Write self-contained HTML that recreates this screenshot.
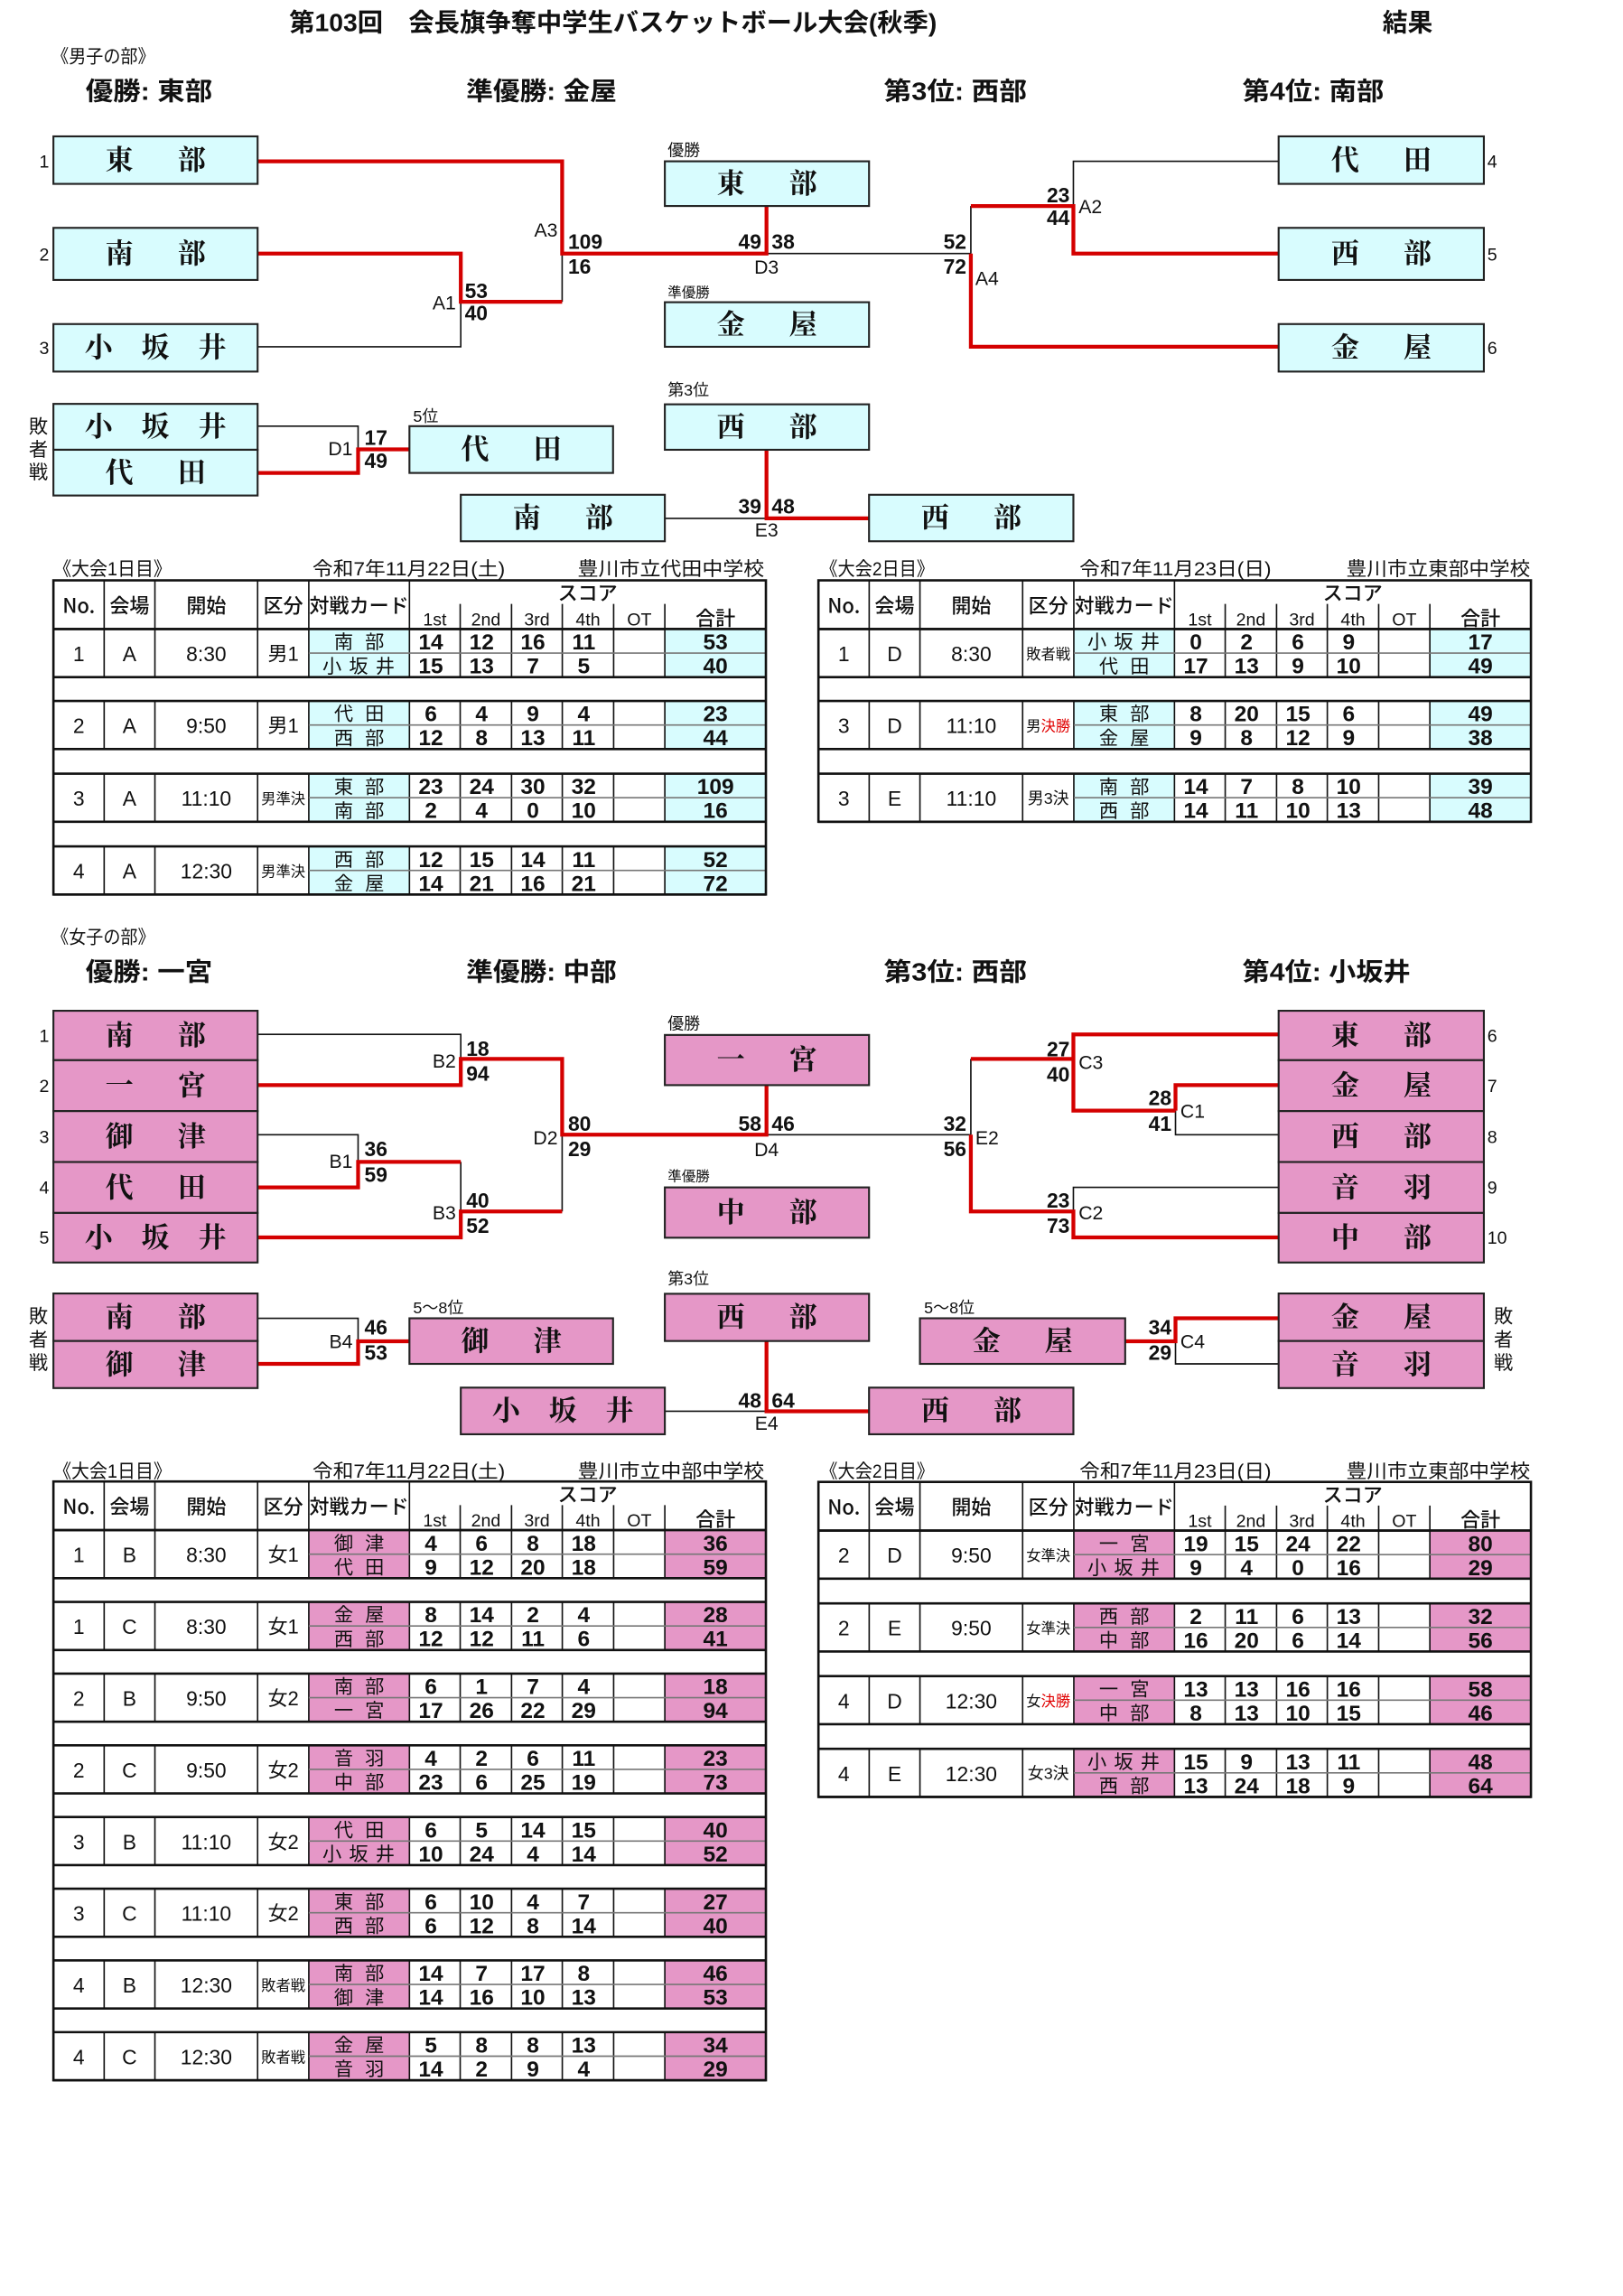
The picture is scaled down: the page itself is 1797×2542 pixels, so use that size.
<!DOCTYPE html>
<html><head><meta charset="utf-8"><style>
html,body{margin:0;padding:0;background:#fff}
svg{display:block}
text{font-family:"Liberation Sans Narrow","Liberation Sans","Noto Sans CJK JP",sans-serif;fill:#111}
.h{font-size:17px;font-weight:bold}
.sub{font-size:12.5px}
.lab{font-size:13px}
.bx{font-family:"Noto Serif CJK SC","Noto Serif CJK JP",serif;font-size:19px;font-weight:bold;text-anchor:middle}
.bs{font-size:14px;font-weight:bold}
.bl{font-size:13px}
.bn{font-size:12px}
.sm{font-size:11px}
.th{font-size:13.5px;text-anchor:middle;font-family:"Liberation Sans Narrow","Noto Sans CJK JP",sans-serif;font-weight:500}
.ts{font-size:12px;text-anchor:middle}
.c{font-size:14px;text-anchor:middle}
.q{font-size:13.5px;text-anchor:middle}
.qs{font-size:10px;text-anchor:middle}
.n{font-family:"Noto Sans CJK JP",sans-serif;font-size:13px;text-anchor:middle}
.sc{font-size:15px;font-weight:bold;text-anchor:middle}
.k{stroke:#111;stroke-width:1;fill:none}
.K{stroke:#111;stroke-width:1.6;fill:none}
.gl{stroke:#777;stroke-width:1;fill:none}
.r{stroke:#d40000;stroke-width:2.6;fill:none}
.bc{fill:#d8fcfe;stroke:#222;stroke-width:1.3}
.bp{fill:#e597c7;stroke:#222;stroke-width:1.3}
.mid{text-anchor:middle}
.end{text-anchor:end}
</style></head><body>
<svg width="1797" height="2542" viewBox="0 0 1100 1556" xmlns="http://www.w3.org/2000/svg">
<defs>
<g id="sk">
<path class="k" d="M70.6 0v32.6M105 0v32.6M174.6 0v32.6M209.3 0v32.6M277.5 0v32.6M311.9 0v32.6M346.7 0v32.6M381.1 0v32.6M415.9 0v32.6M450.6 0v32.6"/>
<path class="gl" d="M209.3 16.3H519.1"/>
<path class="K" d="M36.2 0H519.1M36.2 32.6H519.1"/>
</g>
<g id="rc"><rect x="209.3" y="0" width="68.2" height="32.6" fill="#d8fcfe"/><rect x="450.6" y="0" width="68.5" height="32.6" fill="#d8fcfe"/><use href="#sk"/></g>
<g id="rp"><rect x="209.3" y="0" width="68.2" height="32.6" fill="#e597c7"/><rect x="450.6" y="0" width="68.5" height="32.6" fill="#e597c7"/><use href="#sk"/></g>
<g id="hd">
<path class="k" d="M70.6 0v33M105 0v33M174.6 0v33M209.3 0v33M277.5 0v33M311.9 16v17M346.7 16v17M381.1 16v17M415.9 16v17M450.6 16v17"/>
<path class="K" d="M36.2 33H519.1"/>
<text class="th" x="53.4" y="22">No.</text>
<text class="th" x="87.8" y="22">会場</text>
<text class="th" x="139.8" y="22">開始</text>
<text class="th" x="192" y="22">区分</text>
<text class="th" x="243.4" y="22">対戦カード</text>
<text class="th" x="398.3" y="13.5">スコア</text>
<text class="ts" y="30.5"><tspan x="294.7">1st</tspan><tspan x="329.3">2nd</tspan><tspan x="363.9">3rd</tspan><tspan x="398.5">4th</tspan><tspan x="433.3">OT</tspan></text>
<text class="th" x="484.9" y="30.5">合計</text>
</g>
</defs>

<!-- ===== Titles ===== -->
<text class="h" x="196" y="21" textLength="439" lengthAdjust="spacingAndGlyphs">第103回　会長旗争奪中学生バスケットボール大会(秋季)</text>
<text class="h" x="937" y="21">結果</text>
<text class="sub" x="35" y="42.5" textLength="70" lengthAdjust="spacingAndGlyphs">《男子の部》</text>
<text class="h" x="58" y="67.5" textLength="86" lengthAdjust="spacingAndGlyphs">優勝: 東部</text>
<text class="h" x="316" y="67.5" textLength="102" lengthAdjust="spacingAndGlyphs">準優勝: 金屋</text>
<text class="h" x="599" y="67.5" textLength="97" lengthAdjust="spacingAndGlyphs">第3位: 西部</text>
<text class="h" x="842" y="67.5" textLength="96" lengthAdjust="spacingAndGlyphs">第4位: 南部</text>

<!-- ===== Men bracket lines ===== -->
<path class="k" d="M174.6 235H312.3V204.5M381 171.8V204.5M519.5 171.8H658M866.6 109.3H727.5V139.6M658 139.6V171.8M174.6 288.8H242.7V304.5M450.6 351.3H519.5"/>
<path class="r" d="M174.6 171.8H312.3V204.5H381M174.6 109.3H381V171.8H519.5V139.6M866.6 171.8H727.5V139.6H658M866.6 235H658V171.8M174.6 320.5H242.7V304.5H277.5M519.5 304.8V351.3H589"/>

<!-- Men boxes -->
<rect class="bc" x="36.2" y="92.4" width="138.4" height="32.2"/><text class="bx" x="80.9 129.9" y="115">東部</text>
<rect class="bc" x="36.2" y="154.4" width="138.4" height="35.3"/><text class="bx" x="80.9 129.9" y="178.5">南部</text>
<rect class="bc" x="36.2" y="219.6" width="138.4" height="32.2"/><text class="bx" x="66.9 105.4 143.9" y="242.2">小坂井</text>
<rect class="bc" x="866.6" y="92.4" width="139.1" height="32.2"/><text class="bx" x="911.7 960.7" y="115">代田</text>
<rect class="bc" x="866.6" y="154.4" width="139.1" height="35.3"/><text class="bx" x="911.7 960.7" y="178.5">西部</text>
<rect class="bc" x="866.6" y="219.6" width="139.1" height="32.2"/><text class="bx" x="911.7 960.7" y="242.2">金屋</text>
<rect class="bc" x="450.6" y="109.3" width="138.4" height="30.3"/><text class="bx" x="495.3 544.3" y="131">東部</text>
<rect class="bc" x="450.6" y="204.8" width="138.4" height="30.2"/><text class="bx" x="495.3 544.3" y="226.4">金屋</text>
<rect class="bc" x="450.6" y="274" width="138.4" height="30.8"/><text class="bx" x="495.3 544.3" y="295.9">西部</text>
<rect class="bc" x="36.2" y="273.7" width="138.4" height="31.1"/><text class="bx" x="66.9 105.4 143.9" y="295.7">小坂井</text>
<rect class="bc" x="36.2" y="304.8" width="138.4" height="31"/><text class="bx" x="80.9 129.9" y="326.8">代田</text>
<rect class="bc" x="277.5" y="288.8" width="138" height="31.7"/><text class="bx" x="322 371" y="311.1">代田</text>
<rect class="bc" x="312.3" y="335.3" width="138.3" height="31.5"/><text class="bx" x="357 406" y="357.5">南部</text>
<rect class="bc" x="589" y="335.3" width="138.5" height="31.5"/><text class="bx" x="633.8 682.8" y="357.5">西部</text>

<!-- Men labels -->
<text class="bn mid" y="113.5"><tspan x="30">1</tspan></text>
<text class="bn mid" x="30" y="176.5">2</text>
<text class="bn mid" x="30" y="240">3</text>
<text class="bn" x="1008" y="113.5">4</text>
<text class="bn" x="1008" y="176.5">5</text>
<text class="bn" x="1008" y="240">6</text>
<text class="sm" x="452.5" y="105.5">優勝</text>
<text class="sm" x="452.5" y="201.5" style="font-size:9.5px">準優勝</text>
<text class="sm" x="452.5" y="268">第3位</text>
<text class="sm" x="280" y="286">5位</text>
<text class="bl mid" x="26" y="293.5">敗</text><text class="bl mid" x="26" y="309">者</text><text class="bl mid" x="26" y="324.5">戦</text>
<text class="bl end" x="309" y="209.5">A1</text>
<text class="bs" x="315" y="202">53</text><text class="bs" x="315" y="217">40</text>
<text class="bl end" x="378" y="160.5">A3</text>
<text class="bs" x="385" y="168.5">109</text><text class="bs" x="385" y="185.5">16</text>
<text class="bs end" x="516" y="168.5">49</text><text class="bs" x="523" y="168.5">38</text>
<text class="bl mid" x="519.5" y="185.5">D3</text>
<text class="bs end" x="655" y="168.5">52</text><text class="bs end" x="655" y="185.5">72</text>
<text class="bl" x="661" y="193">A4</text>
<text class="bs end" x="725" y="137">23</text><text class="bs end" x="725" y="152.5">44</text>
<text class="bl" x="731" y="144.5">A2</text>
<text class="bl end" x="239" y="308.5">D1</text>
<text class="bs" x="247" y="301.5">17</text><text class="bs" x="247" y="317">49</text>
<text class="bs end" x="516" y="348">39</text><text class="bs" x="523" y="348">48</text>
<text class="bl mid" x="519.5" y="363.5">E3</text>

<!-- ===== Men tables ===== -->
<text class="lab" x="36.2" y="390" textLength="80" lengthAdjust="spacingAndGlyphs">《大会1日目》</text>
<text class="lab" x="211.7" y="390" textLength="130.6" lengthAdjust="spacingAndGlyphs">令和7年11月22日(土)</text>
<text class="lab" x="391.5" y="390" textLength="126.5" lengthAdjust="spacingAndGlyphs">豊川市立代田中学校</text>
<use href="#hd" y="393.3"/>
<use href="#rc" y="426.3"/><use href="#rc" y="475"/><use href="#rc" y="524.3"/><use href="#rc" y="573.6"/>
<rect x="36.2" y="393.3" width="482.9" height="212.9" fill="none" class="K"/>
<g transform="translate(0,426.3)">
<text class="c" y="21.8"><tspan x="53.4">1</tspan><tspan x="87.8">A</tspan><tspan x="139.8">8:30</tspan></text><text class="q" x="192" y="21.5">男1</text>
<text class="n" x="232.9 253.9" y="13.3">南部</text><text class="n" x="225 243 261" y="29.6">小坂井</text>
<text class="sc" y="13.9"><tspan x="292">14</tspan><tspan x="326.4">12</tspan><tspan x="361.2">16</tspan><tspan x="395.6">11</tspan><tspan x="484.9">53</tspan></text>
<text class="sc" y="30.1"><tspan x="292">15</tspan><tspan x="326.4">13</tspan><tspan x="361.2">7</tspan><tspan x="395.6">5</tspan><tspan x="484.9">40</tspan></text>
</g>
<g transform="translate(0,475)">
<text class="c" y="21.8"><tspan x="53.4">2</tspan><tspan x="87.8">A</tspan><tspan x="139.8">9:50</tspan></text><text class="q" x="192" y="21.5">男1</text>
<text class="n" x="232.9 253.9" y="13.3">代田</text><text class="n" x="232.9 253.9" y="29.6">西部</text>
<text class="sc" y="13.9"><tspan x="292">6</tspan><tspan x="326.4">4</tspan><tspan x="361.2">9</tspan><tspan x="395.6">4</tspan><tspan x="484.9">23</tspan></text>
<text class="sc" y="30.1"><tspan x="292">12</tspan><tspan x="326.4">8</tspan><tspan x="361.2">13</tspan><tspan x="395.6">11</tspan><tspan x="484.9">44</tspan></text>
</g>
<g transform="translate(0,524.3)">
<text class="c" y="21.8"><tspan x="53.4">3</tspan><tspan x="87.8">A</tspan><tspan x="139.8">11:10</tspan></text><text class="qs" x="192" y="20.5">男準決</text>
<text class="n" x="232.9 253.9" y="13.3">東部</text><text class="n" x="232.9 253.9" y="29.6">南部</text>
<text class="sc" y="13.9"><tspan x="292">23</tspan><tspan x="326.4">24</tspan><tspan x="361.2">30</tspan><tspan x="395.6">32</tspan><tspan x="484.9">109</tspan></text>
<text class="sc" y="30.1"><tspan x="292">2</tspan><tspan x="326.4">4</tspan><tspan x="361.2">0</tspan><tspan x="395.6">10</tspan><tspan x="484.9">16</tspan></text>
</g>
<g transform="translate(0,573.6)">
<text class="c" y="21.8"><tspan x="53.4">4</tspan><tspan x="87.8">A</tspan><tspan x="139.8">12:30</tspan></text><text class="qs" x="192" y="20.5">男準決</text>
<text class="n" x="232.9 253.9" y="13.3">西部</text><text class="n" x="232.9 253.9" y="29.6">金屋</text>
<text class="sc" y="13.9"><tspan x="292">12</tspan><tspan x="326.4">15</tspan><tspan x="361.2">14</tspan><tspan x="395.6">11</tspan><tspan x="484.9">52</tspan></text>
<text class="sc" y="30.1"><tspan x="292">14</tspan><tspan x="326.4">21</tspan><tspan x="361.2">16</tspan><tspan x="395.6">21</tspan><tspan x="484.9">72</tspan></text>
</g>

<text class="lab" x="556" y="390" textLength="77" lengthAdjust="spacingAndGlyphs">《大会2日目》</text>
<text class="lab" x="731.6" y="390" textLength="130" lengthAdjust="spacingAndGlyphs">令和7年11月23日(日)</text>
<text class="lab" x="912.5" y="390" textLength="124.6" lengthAdjust="spacingAndGlyphs">豊川市立東部中学校</text>
<g transform="translate(518.5,0)">
<use href="#hd" y="393.3"/>
<use href="#rc" y="426.3"/><use href="#rc" y="475"/><use href="#rc" y="524.3"/>
<rect x="36.2" y="393.3" width="482.9" height="163.6" fill="none" class="K"/>
<g transform="translate(0,426.3)">
<text class="c" y="21.8"><tspan x="53.4">1</tspan><tspan x="87.8">D</tspan><tspan x="139.8">8:30</tspan></text><text class="qs" x="192" y="20.5">敗者戦</text>
<text class="n" x="225 243 261" y="13.3">小坂井</text><text class="n" x="232.9 253.9" y="29.6">代田</text>
<text class="sc" y="13.9"><tspan x="292">0</tspan><tspan x="326.4">2</tspan><tspan x="361.2">6</tspan><tspan x="395.6">9</tspan><tspan x="484.9">17</tspan></text>
<text class="sc" y="30.1"><tspan x="292">17</tspan><tspan x="326.4">13</tspan><tspan x="361.2">9</tspan><tspan x="395.6">10</tspan><tspan x="484.9">49</tspan></text>
</g>
<g transform="translate(0,475)">
<text class="c" y="21.8"><tspan x="53.4">3</tspan><tspan x="87.8">D</tspan><tspan x="139.8">11:10</tspan></text><text class="qs" x="192" y="20.5">男<tspan fill="#e00000">決勝</tspan></text>
<text class="n" x="232.9 253.9" y="13.3">東部</text><text class="n" x="232.9 253.9" y="29.6">金屋</text>
<text class="sc" y="13.9"><tspan x="292">8</tspan><tspan x="326.4">20</tspan><tspan x="361.2">15</tspan><tspan x="395.6">6</tspan><tspan x="484.9">49</tspan></text>
<text class="sc" y="30.1"><tspan x="292">9</tspan><tspan x="326.4">8</tspan><tspan x="361.2">12</tspan><tspan x="395.6">9</tspan><tspan x="484.9">38</tspan></text>
</g>
<g transform="translate(0,524.3)">
<text class="c" y="21.8"><tspan x="53.4">3</tspan><tspan x="87.8">E</tspan><tspan x="139.8">11:10</tspan></text><text class="qs" x="192" y="20.5" style="font-size:11px">男3決</text>
<text class="n" x="232.9 253.9" y="13.3">南部</text><text class="n" x="232.9 253.9" y="29.6">西部</text>
<text class="sc" y="13.9"><tspan x="292">14</tspan><tspan x="326.4">7</tspan><tspan x="361.2">8</tspan><tspan x="395.6">10</tspan><tspan x="484.9">39</tspan></text>
<text class="sc" y="30.1"><tspan x="292">14</tspan><tspan x="326.4">11</tspan><tspan x="361.2">10</tspan><tspan x="395.6">13</tspan><tspan x="484.9">48</tspan></text>
</g>
</g>

<!-- ===== Women section ===== -->
<text class="sub" x="35" y="639.5" textLength="70" lengthAdjust="spacingAndGlyphs">《女子の部》</text>
<text class="h" x="58" y="664.5" textLength="86" lengthAdjust="spacingAndGlyphs">優勝: 一宮</text>
<text class="h" x="316" y="664.5" textLength="102" lengthAdjust="spacingAndGlyphs">準優勝: 中部</text>
<text class="h" x="599" y="664.5" textLength="97" lengthAdjust="spacingAndGlyphs">第3位: 西部</text>
<text class="h" x="842" y="664.5" textLength="114" lengthAdjust="spacingAndGlyphs">第4位: 小坂井</text>

<path class="k" d="M174.6 701H312.3V717.6M174.6 769H242.7V787.4M312.3 787.4V821M381 769V821M519.5 769H658M866.6 769H796.7V752.7M658 717.6V769M866.6 804.7H727.5V821M174.6 893.4H242.7V909M866.6 924.3H796.7V909M450.6 956.4H519.5"/>
<path class="r" d="M174.6 735.4H312.3V717.6H381V769H519.5V735.4M174.6 804.7H242.7V787.4H312.3M174.6 838.6H312.3V821H381M866.6 701H727.5V752.7H796.7M727.5 717.6H658M866.6 735.4H796.7V752.7M658 769V821H727.5V838.6H866.6M174.6 924.3H242.7V909H277.5M866.6 893.4H796.7V909H762.6M519.5 908.8V956.4H589"/>

<rect class="bp" x="36.2" y="685" width="138.4" height="33.5"/><text class="bx" x="80.9 129.9" y="708.3">南部</text>
<rect class="bp" x="36.2" y="718.5" width="138.4" height="34.5"/><text class="bx" x="80.9 129.9" y="742.3">一宮</text>
<rect class="bp" x="36.2" y="753" width="138.4" height="34.5"/><text class="bx" x="80.9 129.9" y="776.8">御津</text>
<rect class="bp" x="36.2" y="787.5" width="138.4" height="34.5"/><text class="bx" x="80.9 129.9" y="811.3">代田</text>
<rect class="bp" x="36.2" y="822" width="138.4" height="33.6"/><text class="bx" x="66.9 105.4 143.9" y="845.3">小坂井</text>
<rect class="bp" x="866.6" y="685" width="139.1" height="33.5"/><text class="bx" x="911.7 960.7" y="708.3">東部</text>
<rect class="bp" x="866.6" y="718.5" width="139.1" height="34.5"/><text class="bx" x="911.7 960.7" y="742.3">金屋</text>
<rect class="bp" x="866.6" y="753" width="139.1" height="34.5"/><text class="bx" x="911.7 960.7" y="776.8">西部</text>
<rect class="bp" x="866.6" y="787.5" width="139.1" height="34.5"/><text class="bx" x="911.7 960.7" y="811.3">音羽</text>
<rect class="bp" x="866.6" y="822" width="139.1" height="33.6"/><text class="bx" x="911.7 960.7" y="845.3">中部</text>
<rect class="bp" x="450.6" y="701.4" width="138.4" height="34"/><text class="bx" x="495.3 544.3" y="724.9">一宮</text>
<rect class="bp" x="450.6" y="804.7" width="138.4" height="34.1"/><text class="bx" x="495.3 544.3" y="828.3">中部</text>
<rect class="bp" x="450.6" y="876.8" width="138.4" height="32"/><text class="bx" x="495.3 544.3" y="899.3">西部</text>
<rect class="bp" x="36.2" y="876.6" width="138.4" height="32.2"/><text class="bx" x="80.9 129.9" y="899.2">南部</text>
<rect class="bp" x="36.2" y="908.8" width="138.4" height="31.9"/><text class="bx" x="80.9 129.9" y="931.2">御津</text>
<rect class="bp" x="277.5" y="893.4" width="138" height="30.9"/><text class="bx" x="322 371" y="915.3">御津</text>
<rect class="bp" x="866.6" y="876.6" width="139.1" height="32.2"/><text class="bx" x="911.7 960.7" y="899.2">金屋</text>
<rect class="bp" x="866.6" y="908.8" width="139.1" height="31.9"/><text class="bx" x="911.7 960.7" y="931.2">音羽</text>
<rect class="bp" x="623.5" y="893.4" width="139.1" height="30.9"/><text class="bx" x="668.5 717.5" y="915.3">金屋</text>
<rect class="bp" x="312.3" y="940.4" width="138.3" height="31.6"/><text class="bx" x="343 381.5 420" y="962.7">小坂井</text>
<rect class="bp" x="589" y="940.4" width="138.5" height="31.6"/><text class="bx" x="633.8 682.8" y="962.7">西部</text>

<text class="bn mid" x="30" y="706">1</text><text class="bn mid" x="30" y="740">2</text><text class="bn mid" x="30" y="774.5">3</text><text class="bn mid" x="30" y="809">4</text><text class="bn mid" x="30" y="843">5</text>
<text class="bn" x="1008" y="706">6</text><text class="bn" x="1008" y="740">7</text><text class="bn" x="1008" y="774.5">8</text><text class="bn" x="1008" y="809">9</text><text class="bn" x="1008" y="843">10</text>
<text class="sm" x="452.5" y="697.5">優勝</text>
<text class="sm" x="452.5" y="800.5" style="font-size:9.5px">準優勝</text>
<text class="sm" x="452.5" y="870.5">第3位</text>
<text class="sm" x="280" y="890">5～8位</text>
<text class="sm" x="626.3" y="890">5～8位</text>
<text class="bl mid" x="26" y="896.5">敗</text><text class="bl mid" x="26" y="912.5">者</text><text class="bl mid" x="26" y="928">戦</text>
<text class="bl mid" x="1019" y="896.5">敗</text><text class="bl mid" x="1019" y="912.5">者</text><text class="bl mid" x="1019" y="928">戦</text>

<text class="bl end" x="309" y="723.5">B2</text><text class="bs" x="316" y="715.5">18</text><text class="bs" x="316" y="732.5">94</text>
<text class="bl end" x="239" y="791.5">B1</text><text class="bs" x="247" y="783.5">36</text><text class="bs" x="247" y="801">59</text>
<text class="bl end" x="309" y="826.5">B3</text><text class="bs" x="316" y="818.5">40</text><text class="bs" x="316" y="835.5">52</text>
<text class="bl end" x="378" y="775.5">D2</text><text class="bs" x="385" y="766.5">80</text><text class="bs" x="385" y="783.5">29</text>
<text class="bs end" x="516" y="766.5">58</text><text class="bs" x="523" y="766.5">46</text><text class="bl mid" x="519.5" y="783.5">D4</text>
<text class="bs end" x="725" y="716">27</text><text class="bs end" x="725" y="733">40</text><text class="bl" x="731" y="724.5">C3</text>
<text class="bs end" x="794" y="749">28</text><text class="bs end" x="794" y="766.5">41</text><text class="bl" x="800" y="757.5">C1</text>
<text class="bs end" x="655" y="766.5">32</text><text class="bs end" x="655" y="783.5">56</text><text class="bl" x="661" y="775.5">E2</text>
<text class="bs end" x="725" y="818.5">23</text><text class="bs end" x="725" y="835.5">73</text><text class="bl" x="731" y="826.5">C2</text>
<text class="bl end" x="239" y="913.5">B4</text><text class="bs" x="247" y="904.5">46</text><text class="bs" x="247" y="921.5">53</text>
<text class="bs end" x="794" y="904.5">34</text><text class="bs end" x="794" y="921.5">29</text><text class="bl" x="800" y="913.5">C4</text>
<text class="bs end" x="516" y="954">48</text><text class="bs" x="523" y="954">64</text><text class="bl mid" x="519.5" y="969">E4</text>

<!-- ===== Women tables ===== -->
<text class="lab" x="36.2" y="1001.5" textLength="80" lengthAdjust="spacingAndGlyphs">《大会1日目》</text>
<text class="lab" x="211.7" y="1001.5" textLength="130.6" lengthAdjust="spacingAndGlyphs">令和7年11月22日(土)</text>
<text class="lab" x="391.5" y="1001.5" textLength="126.5" lengthAdjust="spacingAndGlyphs">豊川市立中部中学校</text>
<use href="#hd" y="1004"/>
<use href="#rp" y="1037"/><use href="#rp" y="1085.6"/><use href="#rp" y="1134.2"/><use href="#rp" y="1182.8"/><use href="#rp" y="1231.4"/><use href="#rp" y="1280"/><use href="#rp" y="1328.6"/><use href="#rp" y="1377.2"/>
<rect x="36.2" y="1004" width="482.9" height="405.8" fill="none" class="K"/>
<g transform="translate(0,1037)">
<text class="c" y="21.8"><tspan x="53.4">1</tspan><tspan x="87.8">B</tspan><tspan x="139.8">8:30</tspan></text><text class="q" x="192" y="21.5">女1</text>
<text class="n" x="232.9 253.9" y="13.3">御津</text><text class="n" x="232.9 253.9" y="29.6">代田</text>
<text class="sc" y="13.9"><tspan x="292">4</tspan><tspan x="326.4">6</tspan><tspan x="361.2">8</tspan><tspan x="395.6">18</tspan><tspan x="484.9">36</tspan></text>
<text class="sc" y="30.1"><tspan x="292">9</tspan><tspan x="326.4">12</tspan><tspan x="361.2">20</tspan><tspan x="395.6">18</tspan><tspan x="484.9">59</tspan></text>
</g>
<g transform="translate(0,1085.6)">
<text class="c" y="21.8"><tspan x="53.4">1</tspan><tspan x="87.8">C</tspan><tspan x="139.8">8:30</tspan></text><text class="q" x="192" y="21.5">女1</text>
<text class="n" x="232.9 253.9" y="13.3">金屋</text><text class="n" x="232.9 253.9" y="29.6">西部</text>
<text class="sc" y="13.9"><tspan x="292">8</tspan><tspan x="326.4">14</tspan><tspan x="361.2">2</tspan><tspan x="395.6">4</tspan><tspan x="484.9">28</tspan></text>
<text class="sc" y="30.1"><tspan x="292">12</tspan><tspan x="326.4">12</tspan><tspan x="361.2">11</tspan><tspan x="395.6">6</tspan><tspan x="484.9">41</tspan></text>
</g>
<g transform="translate(0,1134.2)">
<text class="c" y="21.8"><tspan x="53.4">2</tspan><tspan x="87.8">B</tspan><tspan x="139.8">9:50</tspan></text><text class="q" x="192" y="21.5">女2</text>
<text class="n" x="232.9 253.9" y="13.3">南部</text><text class="n" x="232.9 253.9" y="29.6">一宮</text>
<text class="sc" y="13.9"><tspan x="292">6</tspan><tspan x="326.4">1</tspan><tspan x="361.2">7</tspan><tspan x="395.6">4</tspan><tspan x="484.9">18</tspan></text>
<text class="sc" y="30.1"><tspan x="292">17</tspan><tspan x="326.4">26</tspan><tspan x="361.2">22</tspan><tspan x="395.6">29</tspan><tspan x="484.9">94</tspan></text>
</g>
<g transform="translate(0,1182.8)">
<text class="c" y="21.8"><tspan x="53.4">2</tspan><tspan x="87.8">C</tspan><tspan x="139.8">9:50</tspan></text><text class="q" x="192" y="21.5">女2</text>
<text class="n" x="232.9 253.9" y="13.3">音羽</text><text class="n" x="232.9 253.9" y="29.6">中部</text>
<text class="sc" y="13.9"><tspan x="292">4</tspan><tspan x="326.4">2</tspan><tspan x="361.2">6</tspan><tspan x="395.6">11</tspan><tspan x="484.9">23</tspan></text>
<text class="sc" y="30.1"><tspan x="292">23</tspan><tspan x="326.4">6</tspan><tspan x="361.2">25</tspan><tspan x="395.6">19</tspan><tspan x="484.9">73</tspan></text>
</g>
<g transform="translate(0,1231.4)">
<text class="c" y="21.8"><tspan x="53.4">3</tspan><tspan x="87.8">B</tspan><tspan x="139.8">11:10</tspan></text><text class="q" x="192" y="21.5">女2</text>
<text class="n" x="232.9 253.9" y="13.3">代田</text><text class="n" x="225 243 261" y="29.6">小坂井</text>
<text class="sc" y="13.9"><tspan x="292">6</tspan><tspan x="326.4">5</tspan><tspan x="361.2">14</tspan><tspan x="395.6">15</tspan><tspan x="484.9">40</tspan></text>
<text class="sc" y="30.1"><tspan x="292">10</tspan><tspan x="326.4">24</tspan><tspan x="361.2">4</tspan><tspan x="395.6">14</tspan><tspan x="484.9">52</tspan></text>
</g>
<g transform="translate(0,1280)">
<text class="c" y="21.8"><tspan x="53.4">3</tspan><tspan x="87.8">C</tspan><tspan x="139.8">11:10</tspan></text><text class="q" x="192" y="21.5">女2</text>
<text class="n" x="232.9 253.9" y="13.3">東部</text><text class="n" x="232.9 253.9" y="29.6">西部</text>
<text class="sc" y="13.9"><tspan x="292">6</tspan><tspan x="326.4">10</tspan><tspan x="361.2">4</tspan><tspan x="395.6">7</tspan><tspan x="484.9">27</tspan></text>
<text class="sc" y="30.1"><tspan x="292">6</tspan><tspan x="326.4">12</tspan><tspan x="361.2">8</tspan><tspan x="395.6">14</tspan><tspan x="484.9">40</tspan></text>
</g>
<g transform="translate(0,1328.6)">
<text class="c" y="21.8"><tspan x="53.4">4</tspan><tspan x="87.8">B</tspan><tspan x="139.8">12:30</tspan></text><text class="qs" x="192" y="20.5">敗者戦</text>
<text class="n" x="232.9 253.9" y="13.3">南部</text><text class="n" x="232.9 253.9" y="29.6">御津</text>
<text class="sc" y="13.9"><tspan x="292">14</tspan><tspan x="326.4">7</tspan><tspan x="361.2">17</tspan><tspan x="395.6">8</tspan><tspan x="484.9">46</tspan></text>
<text class="sc" y="30.1"><tspan x="292">14</tspan><tspan x="326.4">16</tspan><tspan x="361.2">10</tspan><tspan x="395.6">13</tspan><tspan x="484.9">53</tspan></text>
</g>
<g transform="translate(0,1377.2)">
<text class="c" y="21.8"><tspan x="53.4">4</tspan><tspan x="87.8">C</tspan><tspan x="139.8">12:30</tspan></text><text class="qs" x="192" y="20.5">敗者戦</text>
<text class="n" x="232.9 253.9" y="13.3">金屋</text><text class="n" x="232.9 253.9" y="29.6">音羽</text>
<text class="sc" y="13.9"><tspan x="292">5</tspan><tspan x="326.4">8</tspan><tspan x="361.2">8</tspan><tspan x="395.6">13</tspan><tspan x="484.9">34</tspan></text>
<text class="sc" y="30.1"><tspan x="292">14</tspan><tspan x="326.4">2</tspan><tspan x="361.2">9</tspan><tspan x="395.6">4</tspan><tspan x="484.9">29</tspan></text>
</g>

<text class="lab" x="556" y="1001.5" textLength="77" lengthAdjust="spacingAndGlyphs">《大会2日目》</text>
<text class="lab" x="731.6" y="1001.5" textLength="130" lengthAdjust="spacingAndGlyphs">令和7年11月23日(日)</text>
<text class="lab" x="912.5" y="1001.5" textLength="124.6" lengthAdjust="spacingAndGlyphs">豊川市立東部中学校</text>
<g transform="translate(518.5,0)">
<use href="#hd" y="1004.3"/>
<use href="#rp" y="1037.3"/><use href="#rp" y="1086.6"/><use href="#rp" y="1135.9"/><use href="#rp" y="1185.2"/>
<rect x="36.2" y="1004.3" width="482.9" height="213.5" fill="none" class="K"/>
<g transform="translate(0,1037.3)">
<text class="c" y="21.8"><tspan x="53.4">2</tspan><tspan x="87.8">D</tspan><tspan x="139.8">9:50</tspan></text><text class="qs" x="192" y="20.5">女準決</text>
<text class="n" x="232.9 253.9" y="13.3">一宮</text><text class="n" x="225 243 261" y="29.6">小坂井</text>
<text class="sc" y="13.9"><tspan x="292">19</tspan><tspan x="326.4">15</tspan><tspan x="361.2">24</tspan><tspan x="395.6">22</tspan><tspan x="484.9">80</tspan></text>
<text class="sc" y="30.1"><tspan x="292">9</tspan><tspan x="326.4">4</tspan><tspan x="361.2">0</tspan><tspan x="395.6">16</tspan><tspan x="484.9">29</tspan></text>
</g>
<g transform="translate(0,1086.6)">
<text class="c" y="21.8"><tspan x="53.4">2</tspan><tspan x="87.8">E</tspan><tspan x="139.8">9:50</tspan></text><text class="qs" x="192" y="20.5">女準決</text>
<text class="n" x="232.9 253.9" y="13.3">西部</text><text class="n" x="232.9 253.9" y="29.6">中部</text>
<text class="sc" y="13.9"><tspan x="292">2</tspan><tspan x="326.4">11</tspan><tspan x="361.2">6</tspan><tspan x="395.6">13</tspan><tspan x="484.9">32</tspan></text>
<text class="sc" y="30.1"><tspan x="292">16</tspan><tspan x="326.4">20</tspan><tspan x="361.2">6</tspan><tspan x="395.6">14</tspan><tspan x="484.9">56</tspan></text>
</g>
<g transform="translate(0,1135.9)">
<text class="c" y="21.8"><tspan x="53.4">4</tspan><tspan x="87.8">D</tspan><tspan x="139.8">12:30</tspan></text><text class="qs" x="192" y="20.5">女<tspan fill="#e00000">決勝</tspan></text>
<text class="n" x="232.9 253.9" y="13.3">一宮</text><text class="n" x="232.9 253.9" y="29.6">中部</text>
<text class="sc" y="13.9"><tspan x="292">13</tspan><tspan x="326.4">13</tspan><tspan x="361.2">16</tspan><tspan x="395.6">16</tspan><tspan x="484.9">58</tspan></text>
<text class="sc" y="30.1"><tspan x="292">8</tspan><tspan x="326.4">13</tspan><tspan x="361.2">10</tspan><tspan x="395.6">15</tspan><tspan x="484.9">46</tspan></text>
</g>
<g transform="translate(0,1185.2)">
<text class="c" y="21.8"><tspan x="53.4">4</tspan><tspan x="87.8">E</tspan><tspan x="139.8">12:30</tspan></text><text class="qs" x="192" y="20.5" style="font-size:11px">女3決</text>
<text class="n" x="225 243 261" y="13.3">小坂井</text><text class="n" x="232.9 253.9" y="29.6">西部</text>
<text class="sc" y="13.9"><tspan x="292">15</tspan><tspan x="326.4">9</tspan><tspan x="361.2">13</tspan><tspan x="395.6">11</tspan><tspan x="484.9">48</tspan></text>
<text class="sc" y="30.1"><tspan x="292">13</tspan><tspan x="326.4">24</tspan><tspan x="361.2">18</tspan><tspan x="395.6">9</tspan><tspan x="484.9">64</tspan></text>
</g>
</g>
</svg>
</body></html>
